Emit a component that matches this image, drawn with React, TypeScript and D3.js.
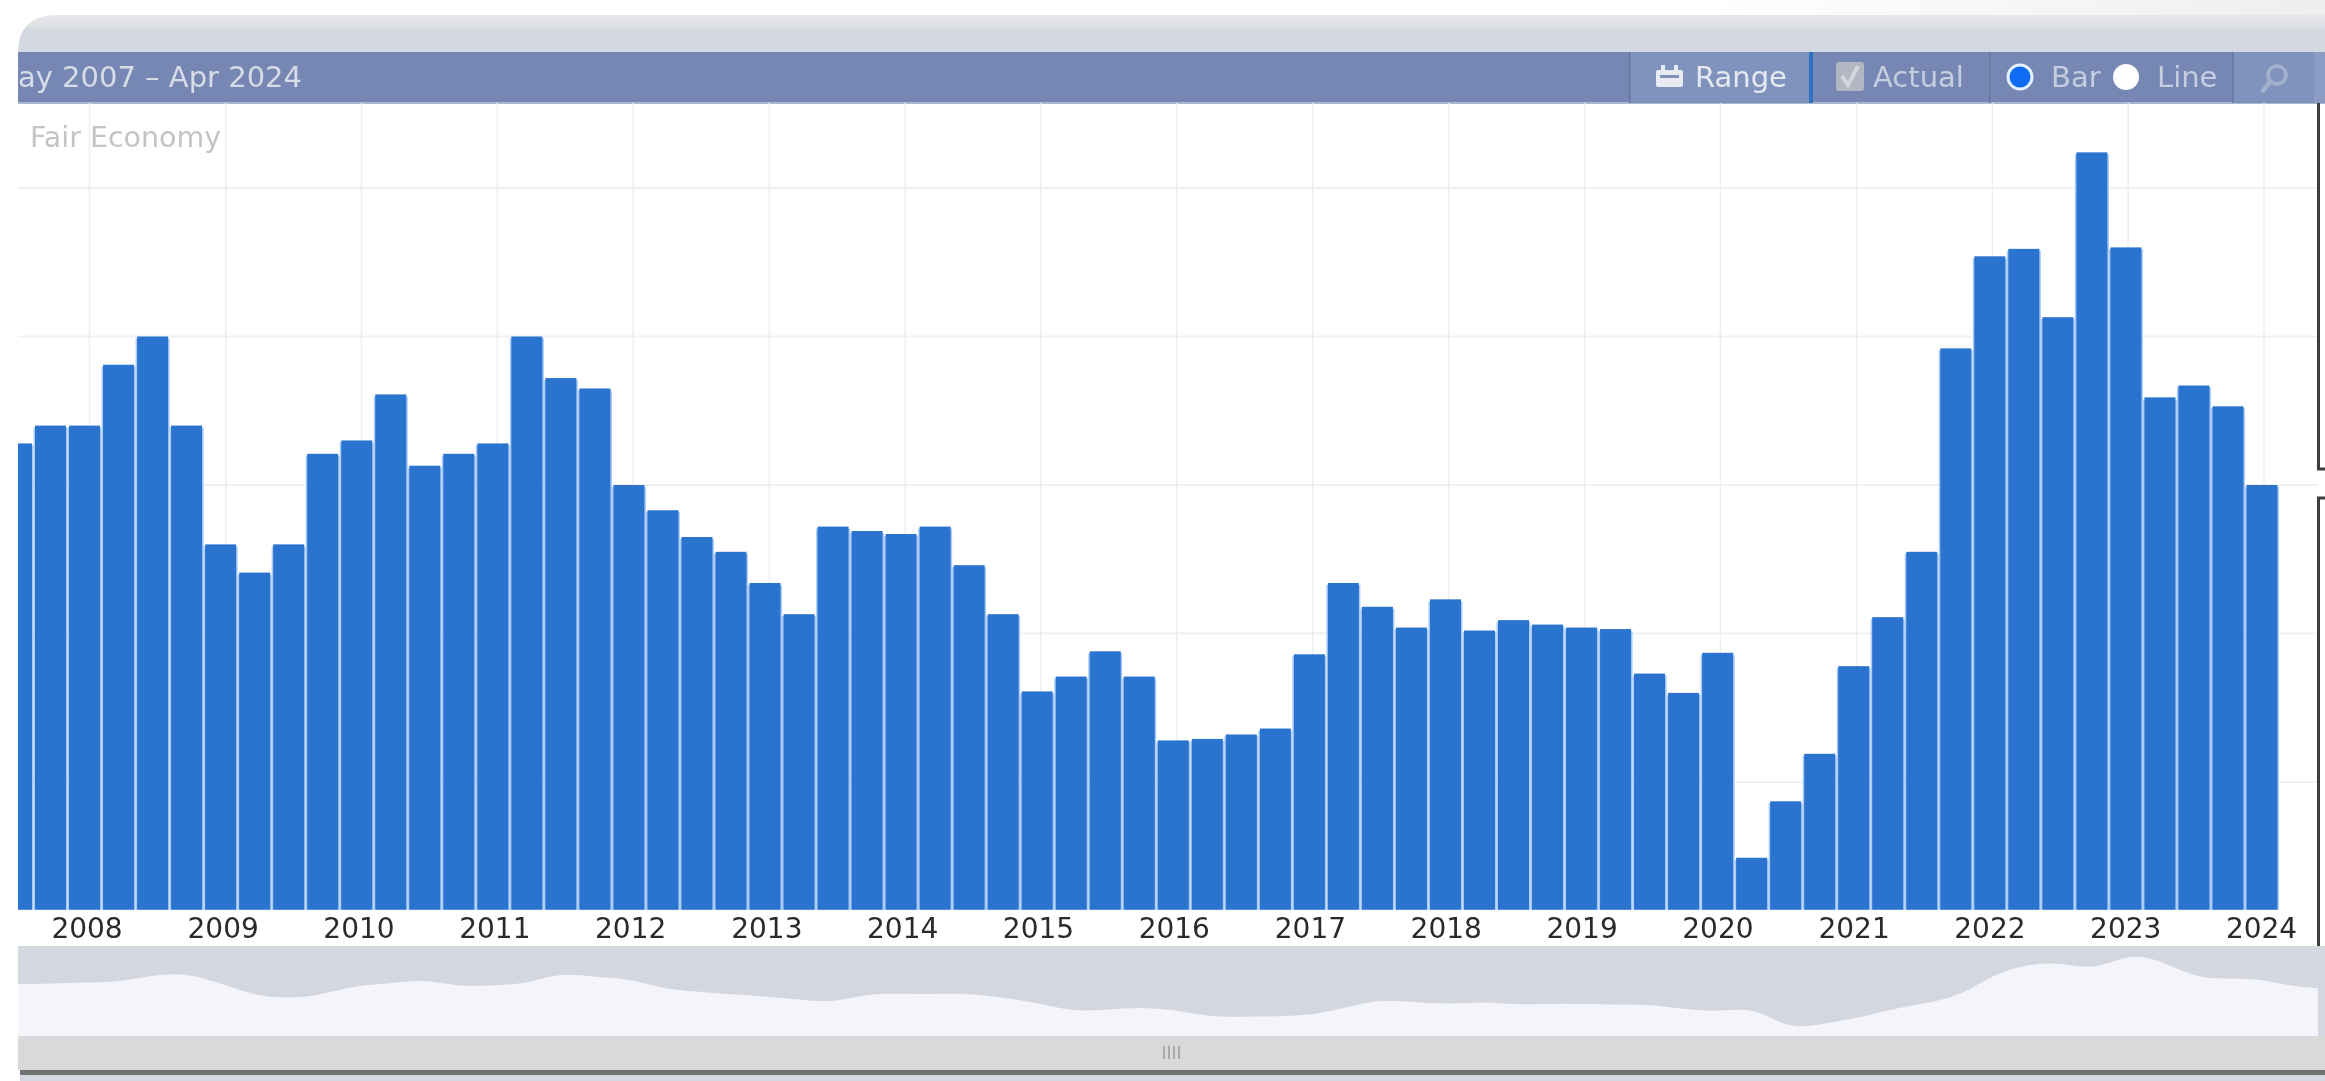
import React, {useEffect, useRef} from "react";
import * as d3 from "d3";

const width = 2325;
const height = 1081;

// quarterly values (no axis labels visible, units = gridline steps)
const values = [
    3.28, 3.40, 3.40, 3.81, 4.00, 3.40, 2.60, 2.41, 2.60, 3.21, 3.30, 3.61,
    3.13, 3.21, 3.28, 4.00, 3.72, 3.65, 3.00, 2.83, 2.65, 2.55, 2.34, 2.13,
    2.72, 2.69, 2.67, 2.72, 2.46, 2.13, 1.61, 1.71, 1.88, 1.71, 1.28, 1.29,
    1.32, 1.36, 1.86, 2.34, 2.18, 2.04, 2.23, 2.02, 2.09, 2.06, 2.04, 2.03,
    1.73, 1.60, 1.87, 0.49, 0.87, 1.19, 1.78, 2.11, 2.55, 3.92, 4.54, 4.59,
    4.13, 5.24, 4.60, 3.59, 3.67, 3.53, 3.00,
];
const firstQuarter = new Date(Date.UTC(2007, 6, 1));
const quarters = values.map((_, i) => d3.utcMonth.offset(firstQuarter, i * 3));
const years = d3.range(2008, 2025);
const gridValues = [1, 2, 3, 4, 5];
const baseValue = 0.14;

const panel = {left: 18, right: 2318, top: 103, bottom: 910};
const font = "'DejaVu Sans', Verdana, sans-serif";

const yearDate = (year: number) => new Date(Date.UTC(year, 0, 1));
const xTime = d3.scaleUtc().domain([yearDate(2008), yearDate(2024)]).range([89.5, 2264]);

const App: React.FC = () => {
    const chartRef = useRef<SVGGElement | null>(null);
    const navRef = useRef<SVGGElement | null>(null);

    useEffect(() => {
        const g = d3.select(chartRef.current);
        g.selectAll("*").remove();

        const xBand = d3.scaleBand<number>().domain(d3.range(values.length)).range([-0.5, 2279]);
        const y = d3.scaleLinear().domain([1, 5]).range([782, 188]);

        // grid
        g.append("g").selectAll("line").data(gridValues).join("line")
            .attr("x1", panel.left).attr("x2", panel.right)
            .attr("y1", d => y(d)).attr("y2", d => y(d))
            .attr("stroke", "#f0f1f5").attr("stroke-width", 2);
        g.append("g").selectAll("line").data(years).join("line")
            .attr("x1", d => xTime(yearDate(d))).attr("x2", d => xTime(yearDate(d)))
            .attr("y1", panel.top).attr("y2", panel.bottom)
            .attr("stroke", "#eceef4").attr("stroke-width", 1.5);

        // bars, the pale underlay gives the light seams between them
        const bars = g.append("g").attr("clip-path", "url(#panelClip)");
        bars.selectAll("rect.seam").data(values).join("rect")
            .attr("class", "seam")
            .attr("x", (_, i) => xBand(i)!)
            .attr("width", xBand.bandwidth())
            .attr("y", d => y(d) + 2)
            .attr("height", d => y(baseValue) - y(d) - 2)
            .attr("fill", "#a9cbf6");
        bars.selectAll("rect.bar").data(values).join("rect")
            .attr("class", "bar")
            .attr("x", (_, i) => xBand(i)! + 1.5)
            .attr("width", xBand.bandwidth() - 3)
            .attr("y", d => y(d))
            .attr("height", d => y(baseValue) - y(d))
            .attr("fill", "#2a73ce");

        // year labels
        const axis = d3.axisBottom(xTime)
            .tickValues(years.map(yearDate))
            .tickFormat(d3.utcFormat("%Y") as any)
            .tickSize(0);
        const axisG = g.append("g").attr("transform", `translate(-3, ${panel.bottom})`).call(axis);
        axisG.select(".domain").remove();
        axisG.selectAll("text")
            .attr("y", 28).attr("dy", 0)
            .attr("font-family", font).attr("font-size", 28).attr("fill", "#2a2a2a");
    }, []);

    useEffect(() => {
        const g = d3.select(navRef.current);
        g.selectAll("*").remove();

        // navigator runs on its own scale, shifted against the main chart
        const navX = d3.scaleUtc()
            .domain([quarters[4], quarters[61]])
            .range([184, 2131]);
        const navY = d3.scaleLinear().domain([0.78, 4.95]).range([1025, 957]);
        const points: [Date, number][] = [
            [d3.utcMonth.offset(quarters[0], -9), values[0]],
            ...quarters.map((d, i) => [d, values[i]] as [Date, number]),
            [d3.utcMonth.offset(quarters[quarters.length - 1], 5), values[values.length - 1]],
        ];
        const area = d3.area<[Date, number]>()
            .x(d => navX(d[0]))
            .y0(1036)
            .y1(d => navY(d[1]))
            .curve(d3.curveBasis);

        g.append("path").attr("d", area(points)).attr("fill", "#f4f4fa").attr("clip-path", "url(#navClip)");
    }, []);

    return (
        <svg width={width} height={height} style={{position: "absolute", left: 0, top: 0, display: "block"}}>
            <defs>
                <clipPath id="panelClip"><rect x={panel.left} y={panel.top} width={2300} height={807}/></clipPath>
                <clipPath id="navClip"><rect x={panel.left} y={946} width={2300} height={90}/></clipPath>
                <linearGradient id="topBand" x1="0" x2="0" y1="0" y2="1">
                    <stop offset="0" stopColor="#e6e7ea"/>
                    <stop offset="0.28" stopColor="#e0e2e6"/>
                    <stop offset="0.4" stopColor="#d4d8e1"/>
                    <stop offset="1" stopColor="#d4d8e1"/>
                </linearGradient>
                <linearGradient id="topFade" x1="0" x2="1" y1="0" y2="0">
                    <stop offset="0" stopColor="#ffffff"/>
                    <stop offset="1" stopColor="#eeeeef"/>
                </linearGradient>
                <filter id="soft" x="0" y="0" width="100%" height="100%">
                    <feGaussianBlur stdDeviation="0.7"/>
                </filter>
            </defs>
            <rect width={width} height={height} fill="#fff"/>
            <g filter="url(#soft)">
                <rect x={1700} y={0} width={625} height={16} fill="url(#topFade)"/>

                {/* rounded top of the frame */}
                <path d="M18 52 Q18 15 58 15 H2325 V52 Z" fill="url(#topBand)"/>

                {/* toolbar */}
                <rect x={18} y={52} width={2307} height={51} fill="#7487b2"/>
                <rect x={18} y={102} width={2307} height={2} fill="#a9b6cf"/>
                <rect x={1630} y={52} width={179} height={51} fill="#7f93bd"/>
                <rect x={1629} y={52} width={1.5} height={51} fill="#64779f"/>
                <rect x={1809} y={52} width={4} height={51} fill="#2f70c4"/>
                <rect x={1989} y={52} width={1.5} height={51} fill="#667aa3"/>
                <rect x={2232} y={52} width={82} height={51} fill="#7f93bd"/>
                <rect x={2232} y={52} width={1.5} height={51} fill="#667aa3"/>
                <rect x={2314} y={52} width={11} height={51} fill="#8a9cc3"/>
                <g fontFamily={font}>
                    <text x={302} y={87} textAnchor="end" fontSize={29} fill="#d7dce8">ay 2007 – Apr 2024</text>
                    <text x={1695} y={87} fontSize={29} fill="#e6e9f1">Range</text>
                    <text x={1873} y={87} fontSize={29} fill="#c5cddf">Actual</text>
                    <text x={2051} y={87} fontSize={29} fill="#c5cddf">Bar</text>
                    <text x={2157} y={87} fontSize={29} fill="#c5cddf">Line</text>
                </g>
                {/* calendar icon */}
                <g fill="#e8ebf2">
                    <rect x={1656} y={70} width={27} height={17} rx={2}/>
                    <rect x={1661} y={65} width={4} height={8}/>
                    <rect x={1674} y={65} width={4} height={8}/>
                    <rect x={1660} y={75} width={19} height={3} fill="#7f93bd"/>
                </g>
                {/* checkbox */}
                <rect x={1836} y={62} width={28} height={29} rx={3} fill="#b3b7c3"/>
                <path d="M1842 76 L1848 85 L1858 66" fill="none" stroke="#d4d6dc" strokeWidth={4}/>
                {/* radios */}
                <circle cx={2020} cy={77} r={12} fill="#0b6cf2" stroke="#e6f0ff" strokeWidth={3}/>
                <circle cx={2126} cy={77} r={13} fill="#fff"/>
                {/* magnifier */}
                <circle cx={2277} cy={75} r={9} fill="none" stroke="#a3b1cc" strokeWidth={3.5}/>
                <path d="M2270 82 L2262 92" stroke="#a3b1cc" strokeWidth={4.5}/>

                {/* chart */}
                <g ref={chartRef}/>
                <text x={30} y={147} fontFamily={font} fontSize={28.5} fill="#c4c4c4">Fair Economy</text>

                {/* right hand boxes */}
                <path d="M2318.5 103 V469 H2325" fill="none" stroke="#3c3c3c" strokeWidth={3}/>
                <path d="M2325 498 H2318.5 V946" fill="none" stroke="#3c3c3c" strokeWidth={3}/>

                {/* navigator */}
                <rect x={18} y={946} width={2307} height={90} fill="#d3d7e0"/>
                <g ref={navRef}/>
                <rect x={18} y={1036} width={2307} height={34} fill="#d9d9d9"/>
                <g stroke="#9a9a9a" strokeWidth={1.5}>
                    <line x1={1164} x2={1164} y1={1046} y2={1059}/>
                    <line x1={1169} x2={1169} y1={1046} y2={1059}/>
                    <line x1={1174} x2={1174} y1={1046} y2={1059}/>
                    <line x1={1179} x2={1179} y1={1046} y2={1059}/>
                </g>
                <rect x={20} y={1070} width={2305} height={5} fill="#6f7173"/>
                <rect x={20} y={1075} width={2305} height={6} fill="#d3d7e0"/>
            </g>
        </svg>
    );
};

export default App;
